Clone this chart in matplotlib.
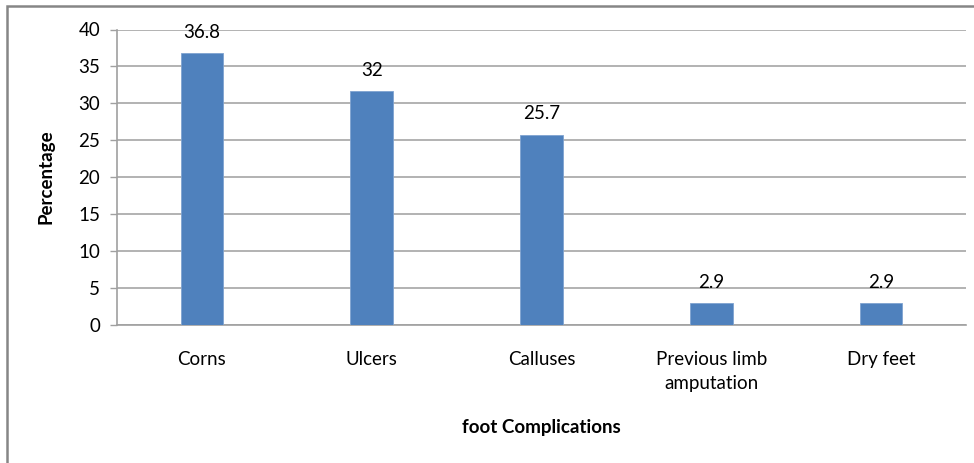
import matplotlib.pyplot as plt
from matplotlib.patches import Rectangle

categories = ["Corns", "Ulcers", "Calluses", "Previous limb\namputation", "Dry feet"]
values = [36.8, 31.6, 25.7, 2.9, 2.9]
value_labels = ["36.8", "32", "25.7", "2.9", "2.9"]
yticks = [0, 5, 10, 15, 20, 25, 30, 35, 40]

plt.rcParams["font.family"] = ["Lato", "DejaVu Sans"]
FS = 13.5

W, H = 974, 463
fig = plt.figure(figsize=(W / 100, H / 100), dpi=100)
ax = fig.add_axes([117 / W, 1 - 324.5 / H, (966 - 117) / W, (324.5 - 29.5) / H])

x = list(range(len(categories)))
ax.bar(x, values, width=0.25, color="#4F81BD", edgecolor="#7FA3D0",
       linewidth=0.6, zorder=3)
for xi, v, lab in zip(x, values, value_labels):
    ax.annotate(lab, (xi, v), xytext=(0, 21), textcoords="offset pixels",
                ha="center", va="center", fontsize=FS, color="black", zorder=4)

ax.set_xlim(-0.5, len(categories) - 0.5)
ax.set_ylim(0, 40)
ax.set_yticks(yticks)
ax.set_xticks(x)
ax.set_xticklabels(categories, fontsize=FS, linespacing=1.5)
ax.tick_params(axis="x", length=0, pad=19)
ax.tick_params(axis="y", length=5, width=1, color="#A0A0A0", labelsize=FS, pad=7)
ax.grid(axis="y", color="#A6A6A6", linewidth=1.2, zorder=0)
ax.set_axisbelow(True)
for s in ["top", "right"]:
    ax.spines[s].set_visible(False)
for s in ["left", "bottom"]:
    ax.spines[s].set_color("#A0A0A0")
    ax.spines[s].set_linewidth(1.2)

ax.set_ylabel("Percentage", fontsize=FS, fontweight="bold")
ax.yaxis.set_label_coords((55 - 117) / (966 - 117), 0.5)
fig.text((117 + 966) / 2 / W, 1 - 427 / H, "foot Complications",
         fontsize=FS, fontweight="bold", ha="center", va="center")

# outer border of the chart area (right and bottom edges cut off)
fig.patches.append(Rectangle((7 / W, -0.1), 1.2, 1 - 6 / H + 0.1,
                             transform=fig.transFigure, fill=False,
                             edgecolor="#868686", linewidth=1.8))

fig.savefig("out.png", dpi=100)
